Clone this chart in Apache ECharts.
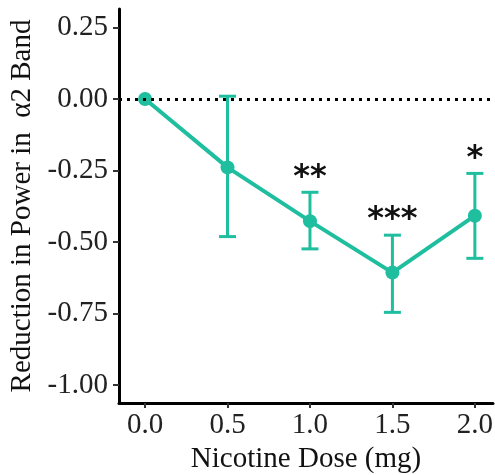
<!DOCTYPE html>
<html>
<head>
<meta charset="utf-8">
<script src="https://cdn.jsdelivr.net/npm/echarts@6/dist/echarts.min.js"></script>
<style>
html,body{margin:0;padding:0;background:#fff;}
#chart{width:495px;height:475px;}
</style>
</head>
<body>
<div id="chart"></div>
<script>
// ---- data ----
const doses = [0.0, 0.5, 1.0, 1.5, 2.0];
const means = [0.0, -0.239, -0.427, -0.607, -0.408];
const errLow = [0.0, -0.481, -0.524, -0.746, -0.557];
const errHigh = [0.0, 0.010, -0.326, -0.476, -0.260];
const stars = ['', '', '**', '***', '*'];
const xTicks = [0.0, 0.5, 1.0, 1.5, 2.0];
const yTicks = [-1.0, -0.75, -0.5, -0.25, 0.0, 0.25];

const teal = '#1fbe9f';
const serif = '"Liberation Serif","Times New Roman",serif';

const lineData = doses.map((d, i) => [d, means[i]]);
const errData = doses.map((d, i) => [d, errLow[i], errHigh[i], stars[i]]).filter((r, i) => i > 0);

const chart = echarts.init(document.getElementById('chart'), null, {renderer: 'canvas'});
chart.setOption({
  animation: false,
  backgroundColor: '#fff',
  grid: {left: 119, right: 2, top: 9, bottom: 72, containLabel: false, outerBoundsMode: 'none'},
  xAxis: {
    type: 'value', min: -0.158, max: 2.11,
    name: 'Nicotine Dose (mg)', nameLocation: 'middle', nameGap: 40,
    nameTextStyle: {fontFamily: serif, fontSize: 29, color: '#111'},
    axisLine: {show: true, onZero: false, lineStyle: {color: '#000', width: 3}},
    axisTick: {show: true, length: 5, customValues: xTicks, lineStyle: {color: '#333', width: 2}},
    axisLabel: {customValues: xTicks, margin: 8, fontFamily: serif, fontSize: 29, color: '#222',
      formatter: v => Number(v).toFixed(1)},
    splitLine: {show: false}
  },
  yAxis: {
    type: 'value', min: -1.063, max: 0.315,
    name: 'Reduction in Power in  \u03b12 Band', nameLocation: 'middle', nameGap: 79,
    nameTextStyle: {fontFamily: serif, fontSize: 29, color: '#111'},
    axisLine: {show: true, onZero: false, lineStyle: {color: '#000', width: 3}},
    axisTick: {show: true, length: 6, customValues: yTicks, lineStyle: {color: '#333', width: 2}},
    axisLabel: {customValues: yTicks, margin: 11, fontFamily: serif, fontSize: 29, color: '#222',
      formatter: v => Number(v).toFixed(2)},
    splitLine: {show: false}
  },
  series: [
    {
      type: 'custom',
      data: errData,
      z: 3,
      renderItem: function (params, api) {
        const x = api.value(0);
        const lo = api.coord([x, api.value(1)]);
        const hi = api.coord([x, api.value(2)]);
        const cw = 8.5;
        const st = {stroke: teal, lineWidth: 3, fill: null};
        const children = [
          {type: 'line', shape: {x1: lo[0], y1: lo[1], x2: hi[0], y2: hi[1]}, style: st},
          {type: 'line', shape: {x1: lo[0] - cw, y1: lo[1], x2: lo[0] + cw, y2: lo[1]}, style: st},
          {type: 'line', shape: {x1: hi[0] - cw, y1: hi[1], x2: hi[0] + cw, y2: hi[1]}, style: st}
        ];
        const s = api.value(3);
        if (s) {
          children.push({type: 'text', x: hi[0], y: hi[1] + 1,
            style: {text: s, fill: '#111', font: 'bold 32px "DejaVu Sans", sans-serif',
              align: 'center', verticalAlign: 'bottom'}});
        }
        return {type: 'group', children: children};
      }
    },
    {
      type: 'line',
      data: lineData,
      z: 4,
      symbol: 'circle', symbolSize: 14,
      itemStyle: {color: teal},
      lineStyle: {color: teal, width: 4},
      markLine: {
        silent: true, symbol: 'none', label: {show: false},
        lineStyle: {color: '#000', width: 3, type: [3, 5], cap: 'butt'},
        data: [{yAxis: 0}]
      }
    }
  ]
});
</script>
</body>
</html>
